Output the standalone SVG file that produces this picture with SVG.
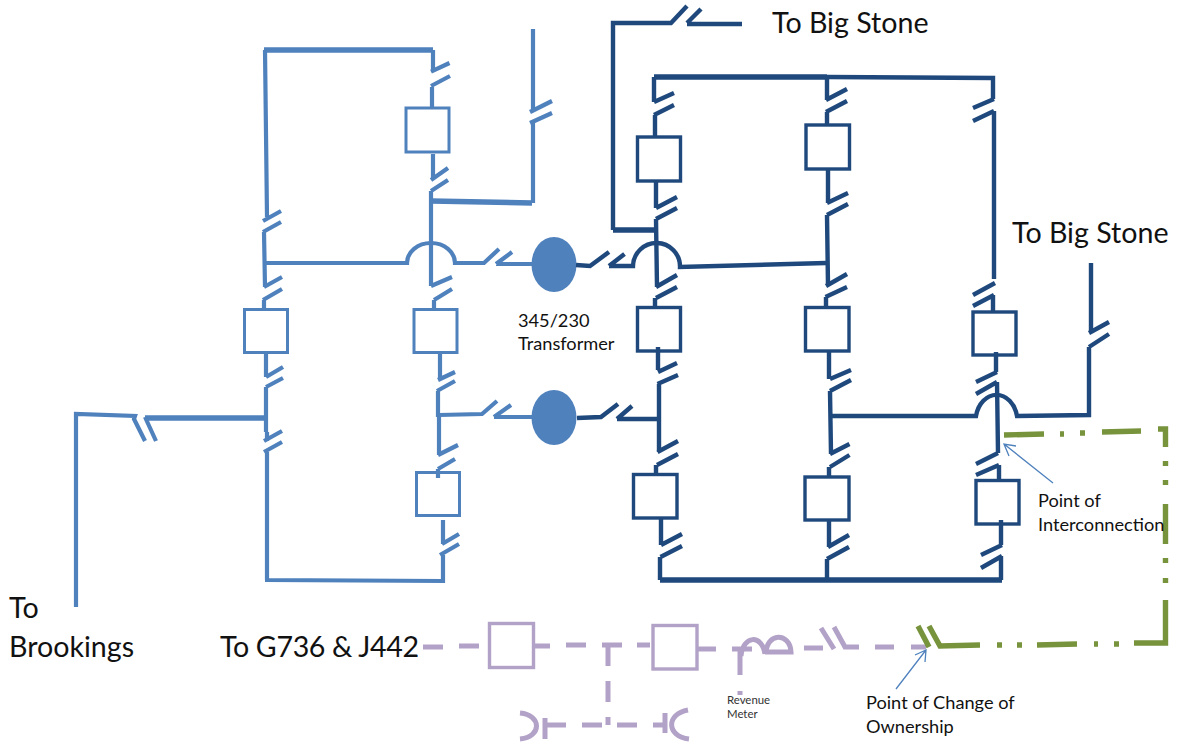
<svg xmlns="http://www.w3.org/2000/svg" width="1178" height="745" viewBox="0 0 1178 745">
<style>
.l{fill:none;stroke-linejoin:miter}
.lb{stroke:#4F81BD;stroke-width:4.2}
.db{stroke:#1F497D;stroke-width:4.4}
.pu{stroke:#B3A2C7;stroke-width:5}
.gr{stroke:#77933C;stroke-width:5.4}
.th{stroke-width:5.4}
.bl{fill:#fff;stroke:#4F81BD;stroke-width:3}
.bd{fill:#fff;stroke:#1F497D;stroke-width:3.4}
.bp{fill:#fff;stroke:#B3A2C7;stroke-width:3.4}
.ar{fill:none;stroke:#4F81BD;stroke-width:1.3}
text{font-family:"Lato","Open Sans","Liberation Sans",sans-serif;fill:#111}
.t1{font-size:28.600px}
.t2{font-size:18.200px}
.t3{font-size:11.400px;fill:#333}
</style>
<g id="nodes">
<g id="breaker-l1"><rect class="bl" x="406" y="108" width="43" height="44"/></g>
<g id="breaker-l2"><rect class="bl" x="244.500" y="309.500" width="43" height="43"/></g>
<g id="breaker-l3"><rect class="bl" x="414" y="309.500" width="43" height="43"/></g>
<g id="breaker-l4"><rect class="bl" x="416.500" y="472.500" width="43" height="43"/></g>
<g id="breaker-d1"><rect class="bd" x="637.500" y="137" width="43" height="44"/></g>
<g id="breaker-d2"><rect class="bd" x="806" y="125" width="43.500" height="44"/></g>
<g id="breaker-d3"><rect class="bd" x="637.500" y="307.500" width="43" height="43.500"/></g>
<g id="breaker-d4"><rect class="bd" x="805.500" y="307.500" width="43.500" height="43.500"/></g>
<g id="breaker-d5"><rect class="bd" x="973" y="312" width="43" height="43"/></g>
<g id="breaker-d6"><rect class="bd" x="633.500" y="474.500" width="43.500" height="43.500"/></g>
<g id="breaker-d7"><rect class="bd" x="805" y="477" width="44" height="43"/></g>
<g id="breaker-d8"><rect class="bd" x="976" y="480.500" width="43" height="43.500"/></g>
<g id="breaker-p1"><rect class="bp" x="489.500" y="623.500" width="44" height="44"/></g>
<g id="breaker-p2"><rect class="bp" x="653" y="625.500" width="44" height="43.500"/></g>
<g id="transformer-1"><ellipse cx="554" cy="264.500" rx="22.500" ry="27.500" fill="#4F81BD"/></g>
<g id="transformer-2"><ellipse cx="554" cy="417.500" rx="22.500" ry="27.500" fill="#4F81BD"/></g>
</g>
<g id="connectors">
<path class="l lb th" d="M264,50H433M431,201L532,203M145,418L265,418"/>
<path class="l lb" d="M433,50V72M431,71.700L449.500,63M431,86L450,76M432,87V108M433,154V179M431,180L448,168M431,191L448,180M431,191V286M431,286L452,277M434,300L452,289M434,300V309"/>
<path class="l lb" d="M533,203V123M533,112V29M530,112L552,101M530,123L552,113"/>
<path class="l lb" d="M265,50L267,217M263,221L281,211M263,232L281,222M264,232L265,287M264,287L282,277M263,300L282,289M264,300V309"/>
<path class="l lb" d="M265,263H407A24,20 0 0 1 455,263L484,263L499,249M496,264L512,252M496,264L532,264"/>
<path class="l lb" d="M76,607V414L135,416L134,419L145,441M145,417L156,441"/>
<path class="l lb" d="M266,353V377M266,377L283,367M266,387L283,378M266,387V432M264,441L282,431M264,452L282,442M267,432V441M267,452V580M265,580L443,581V555M440,555L459,544M442,544L459,534M443,520V544"/>
<path class="l lb" d="M438,469V478M438,469L455,459M438,455L458,445M439,417V455M439,415L482,414L497,401M494,417L511,405M494,417L532,417"/>
<path class="l lb" d="M440,353V380M438,380L455,372M437,391L455,381M438,391V417"/>
<path class="l db" d="M576,265L590,266L609,252M609,266L624.500,254M609,266H633A23,23 0 0 1 680,267L826,263"/>
<path class="l db" d="M577,418L601,417L618,404M617,419L632,406M617,419H659"/>
<path class="l db th" d="M654,77H827M613,230H656M660,580H1002"/>
<path class="l db" d="M827,77L993,78V99M654,77V102M654,102L674,93M654,115L674,105M655,115V137M656,181V208M656,208L677,197M656,219L677,208M656,219L657,287M656,287L677,275M656,298L677,287M655,298V307M658,347V370M658,372L677,363M657.500,384L678,375M659,384V452M657.500,452L678,441M657,465L678,454M656,465V474M661,518V545M661,545L682,534M660.500,557L682,546M660,557V580"/>
<path class="l db" d="M613,230V23H671L687,6M687,23L701,9M687,24H742"/>
<path class="l db" d="M827,75V100M826,100L847,89M826,112L847,101M827,112V125M828,169V203M827,203L848,193M827,215L848,204M827,215L828,286M826,286L847,274M825.500,297L847,287M826,297V307M829,351V379M830,379L851,370M830,391L851,380M830,391L831,454M830,454L849.500,444M830,467L849.500,455M829,467V476M829,520V547M828,547L849,535M827,559L849,547M827,559V580"/>
<path class="l db" d="M830,416H976A21,27 0 0 1 1017,416L1089,415V347M1089,333L1109,322M1089,347L1109,334M1091,333V263"/>
<path class="l db" d="M994,111V279M973,108L994,99M973,121L994,111M973,295L995,283M973,306L994,295M993,295V312M996,352V372M976,382L997,372M976,394L997,382M997,382L998,453M976,464L998,453M976,475L999,465M999,465V480M1001,520V545M981,555L1002,545M981,568L1002,556M1001,556V580"/>
<path class="l pu" d="M423,647H443M459,646H479M533,646H550M566,645H586M602,645H622M608,645V666M608,681V702M608,717V725M637,645H650M697,649H716M732,649H752M740,649V675M740,691V695M741,656C743,635 762,634 765,654M766,654C766,632 790,632 791,652H765M804,648H823M821,628L834,649M834,627L845,647H859M875,647H894M911,647H926"/>
<path class="l pu" d="M520,713C542,715 542,737 520,739M545,718V739M545,725H566M582,725H602M617,725H637M653,725H665M665,713V733M688,710C666,714 666,736 689,739"/>
<path class="l gr" d="M918,626L929,647M929,626L940,646L980,645M997,645H1002M1017,645H1022M1037,645L1077,644M1094,644H1098M1114,644H1119M1134,643H1165.500V600M1165.500,583V578M1165.500,563V558M1165.500,544V504M1165.500,485V480M1165.500,466V461M1165.500,447V429L1158,429M1004,435L1044,434M1060,434H1064M1080,433H1085M1102,432L1141,431"/>
<path class="ar" d="M1053,483L1004,444M1016,446L1004,444L1009,456M896,689L926,650M915,655L926,650L925,662"/>
</g>
<g id="labels">
<text class="t1" x="772" y="33">To Big Stone</text>
<text class="t1" x="1012" y="243">To Big Stone</text>
<text class="t1" x="9" y="618">To</text>
<text class="t1" x="9" y="657">Brookings</text>
<text class="t1" x="220" y="657" textLength="199">To G736 &amp; J442</text>
<text class="t2" x="518" y="327">345/230</text>
<text class="t2" x="518" y="350">Transformer</text>
<text class="t2" x="1038" y="507">Point of</text>
<text class="t2" x="1038" y="531">Interconnection</text>
<text class="t3" x="727" y="704">Revenue</text>
<text class="t3" x="727" y="718">Meter</text>
<text class="t2" x="866" y="709">Point of Change of</text>
<text class="t2" x="866" y="733">Ownership</text>
</g>
</svg>
